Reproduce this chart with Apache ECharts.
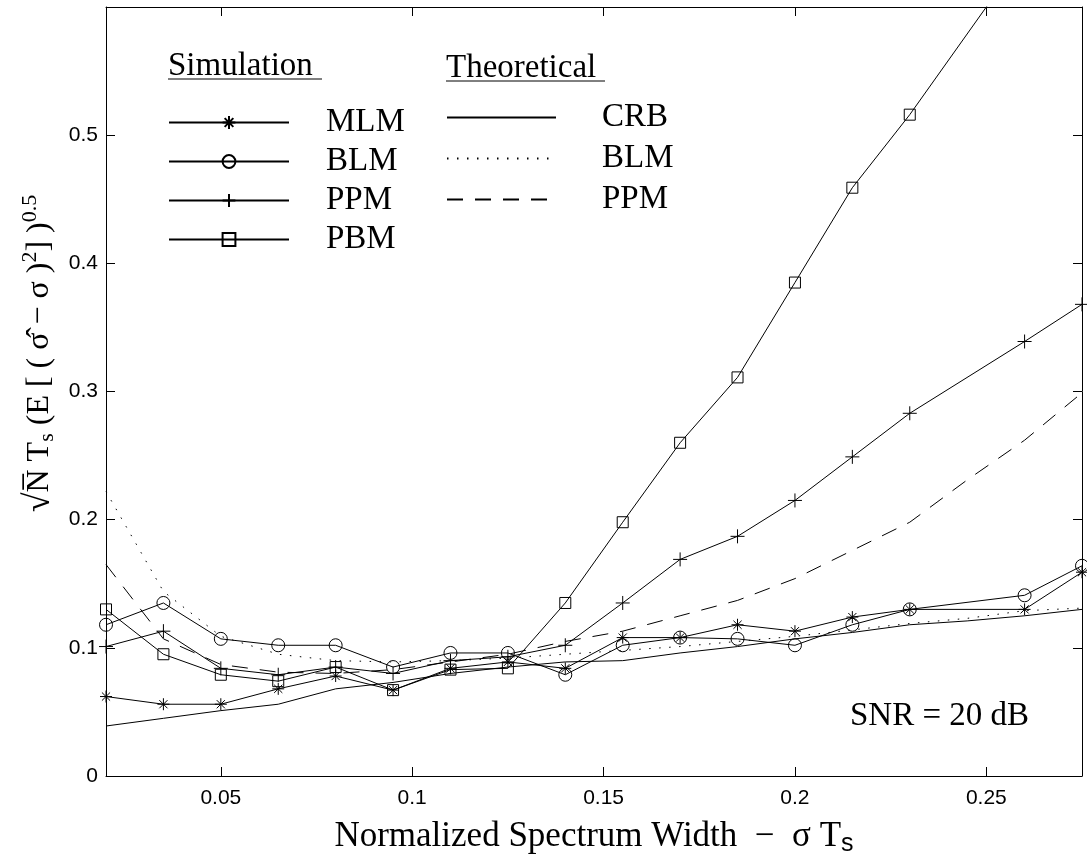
<!DOCTYPE html>
<html>
<head>
<meta charset="utf-8">
<script src="https://cdn.jsdelivr.net/npm/echarts@6/dist/echarts.min.js"></script>
<style>
  html, body { margin: 0; padding: 0; background: #fff; }
  #chart { width: 1087px; height: 863px; }
</style>
</head>
<body>
<div id="chart"></div>
<script>
// simulation points (0.245 is not sampled)
const xSim = [0.02, 0.035, 0.05, 0.065, 0.08, 0.095, 0.11, 0.125, 0.14, 0.155, 0.17, 0.185, 0.2, 0.215, 0.23, 0.26, 0.275]
const mlm = [0.062, 0.056, 0.056, 0.068, 0.078, 0.067, 0.084, 0.089, 0.084, 0.108, 0.108, 0.118, 0.113, 0.124, 0.130, 0.130, 0.159]
const blm = [0.118, 0.135, 0.107, 0.102, 0.102, 0.085, 0.096, 0.096, 0.079, 0.102, 0.108, 0.107, 0.102, 0.118, 0.130, 0.141, 0.164]
const ppm = [0.101, 0.113, 0.084, 0.079, 0.085, 0.080, 0.090, 0.093, 0.102, 0.135, 0.169, 0.187, 0.215, 0.249, 0.283, 0.339, 0.368]
const pbm = [0.130, 0.095, 0.079, 0.074, 0.085, 0.067, 0.083, 0.084, 0.135, 0.198, 0.260, 0.311, 0.385, 0.459, 0.516, 0.642, 0.700]

// theoretical curves
const xTheory = [0.02, 0.035, 0.05, 0.065, 0.08, 0.095, 0.11, 0.125, 0.14, 0.155, 0.17, 0.185, 0.2, 0.215, 0.23, 0.245, 0.26, 0.275]
const crb = [0.039, 0.045, 0.051, 0.056, 0.068, 0.073, 0.080, 0.085, 0.089, 0.090, 0.096, 0.101, 0.107, 0.112, 0.118, 0.121, 0.125, 0.130]
const blmTheory = [0.222, 0.144, 0.109, 0.095, 0.090, 0.089, 0.090, 0.092, 0.095, 0.098, 0.101, 0.105, 0.109, 0.114, 0.119, 0.123, 0.129, 0.131]
const ppmTheory = [0.165, 0.107, 0.087, 0.081, 0.080, 0.083, 0.089, 0.095, 0.105, 0.113, 0.125, 0.137, 0.154, 0.176, 0.198, 0.231, 0.262, 0.299]

const xTicks = [0.05, 0.1, 0.15, 0.2, 0.25]
const yTicks = [0, 0.1, 0.2, 0.3, 0.4, 0.5]

const serif = 'Liberation Serif'
const sans = 'Liberation Sans'

const pair = (xs, ys) => xs.map((x, i) => [x, ys[i]])

const markers = {
  star: 'path://M5,0L5,10M0,5L10,5M1.6,1.6L8.4,8.4M8.4,1.6L1.6,8.4',
  circle: 'path://M10,5A5,5,0,1,1,0,5A5,5,0,1,1,10,5Z',
  plus: 'path://M5,0L5,10M0,5L10,5',
  square: 'path://M0,0L10,0L10,10L0,10Z'
}

function simSeries(name, ys, symbol, size) {
  return {
    name: name,
    type: 'line',
    data: pair(xSim, ys),
    symbol: symbol,
    symbolSize: size,
    symbolKeepAspect: true,
    itemStyle: { color: 'rgba(0,0,0,0)', borderColor: '#000', borderWidth: 1 },
    lineStyle: { color: '#000', width: 1 },
    emphasis: { disabled: true }
  }
}

function theorySeries(name, ys, type) {
  return {
    name: name,
    type: 'line',
    data: pair(xTheory, ys),
    symbol: 'none',
    itemStyle: { color: 'rgba(0,0,0,0)', borderWidth: 0 },
    lineStyle: { color: '#000', width: 1, type: type },
    emphasis: { disabled: true }
  }
}

const chart = echarts.init(document.getElementById('chart'))
chart.setOption({
  animation: false,
  backgroundColor: '#fff',
  grid: { left: 106, right: 5, top: 7, bottom: 87 },
  title: {
    text: 'SNR = 20 dB',
    left: 850,
    top: 700,
    padding: 0,
    textStyle: { fontFamily: serif, fontSize: 33, fontWeight: 'normal', color: '#000' }
  },
  legend: [
    {
      data: ['MLM', 'BLM', 'PPM', 'PBM'],
      orient: 'vertical',
      left: 168,
      top: 103,
      padding: 0,
      itemGap: 0,
      itemWidth: 120,
      itemHeight: 16,
      selectedMode: false,
      formatter: name => '{g| }' + name,
      textStyle: {
        fontFamily: serif, fontSize: 33, color: '#000', lineHeight: 39,
        rich: { g: { width: 32 } }
      }
    },
    {
      data: ['CRB', 'BLM theory', 'PPM theory'],
      orient: 'vertical',
      left: 446,
      top: 97,
      padding: 0,
      itemGap: 0,
      itemWidth: 109,
      itemHeight: 16,
      selectedMode: false,
      formatter: name => '{g| }' + name.split(' ')[0],
      textStyle: {
        fontFamily: serif, fontSize: 33, color: '#000', lineHeight: 41,
        rich: { g: { width: 41 } }
      }
    }
  ],
  graphic: [
    { type: 'text', left: 168, top: 50, style: { text: 'Simulation', font: '33px "Liberation Serif"', fill: '#000' } },
    { type: 'line', shape: { x1: 168, y1: 79, x2: 322, y2: 79 }, style: { stroke: '#000', lineWidth: 1 } },
    { type: 'text', left: 446, top: 52, style: { text: 'Theoretical', font: '33px "Liberation Serif"', fill: '#000' } },
    { type: 'line', shape: { x1: 446, y1: 81, x2: 605, y2: 81 }, style: { stroke: '#000', lineWidth: 1 } }
  ],
  xAxis: [
    {
      type: 'value',
      min: 0.02,
      max: 0.275,
      name: 'Normalized Spectrum Width  −  σ T{sub|s}',
      nameLocation: 'middle',
      nameGap: 40,
      nameTextStyle: {
        fontFamily: serif, fontSize: 35, color: '#000',
        rich: { sub: { fontFamily: sans, fontSize: 25, color: '#000', padding: [16, 0, 0, 0] } }
      },
      axisLine: { onZero: false, lineStyle: { color: '#000', width: 1 } },
      axisTick: { inside: true, length: 9, customValues: xTicks, lineStyle: { color: '#000' } },
      axisLabel: { customValues: xTicks, margin: 12, fontFamily: sans, fontSize: 21, color: '#000' },
      splitLine: { show: false }
    },
    {
      type: 'value',
      position: 'top',
      min: 0.02,
      max: 0.275,
      axisLine: { onZero: false, lineStyle: { color: '#000', width: 1 } },
      axisTick: { inside: true, length: 9, customValues: xTicks, lineStyle: { color: '#000' } },
      axisLabel: { show: false },
      splitLine: { show: false }
    }
  ],
  yAxis: [
    {
      type: 'value',
      min: 0,
      max: 0.6,
      interval: 0.1,
      name: '{r|√}N̅ T{sub|s} (E [ ( σ̂ − σ ){sup|2}] ){sup|0.5}',
      nameLocation: 'middle',
      nameRotate: 90,
      nameGap: 44,
      nameTextStyle: {
        fontFamily: serif, fontSize: 32, color: '#000', padding: [0, 0, 0, 76],
        rich: {
          r: { fontFamily: serif, fontSize: 36, color: '#000' },
          sub: { fontFamily: serif, fontSize: 22, color: '#000', padding: [14, 0, 0, 0] },
          sup: { fontFamily: serif, fontSize: 22, color: '#000', padding: [0, 0, 20, 0] }
        }
      },
      axisLine: { show: true, onZero: false, lineStyle: { color: '#000', width: 1 } },
      axisTick: { show: true, inside: true, length: 9, lineStyle: { color: '#000' } },
      axisLabel: { customValues: yTicks, margin: 8, fontFamily: sans, fontSize: 21, color: '#000' },
      splitLine: { show: false }
    },
    {
      type: 'value',
      position: 'right',
      min: 0,
      max: 0.6,
      interval: 0.1,
      axisLine: { show: true, onZero: false, lineStyle: { color: '#000', width: 1 } },
      axisTick: { show: true, inside: true, length: 9, lineStyle: { color: '#000' } },
      axisLabel: { show: false },
      splitLine: { show: false }
    }
  ],
  series: [
    simSeries('MLM', mlm, markers.star, 12),
    simSeries('BLM', blm, markers.circle, 13),
    simSeries('PPM', ppm, markers.plus, 14),
    simSeries('PBM', pbm, markers.square, 11),
    theorySeries('CRB', crb, 'solid'),
    theorySeries('BLM theory', blmTheory, [1.5, 8.5]),
    theorySeries('PPM theory', ppmTheory, [16, 12])
  ]
})
</script>
</body>
</html>
